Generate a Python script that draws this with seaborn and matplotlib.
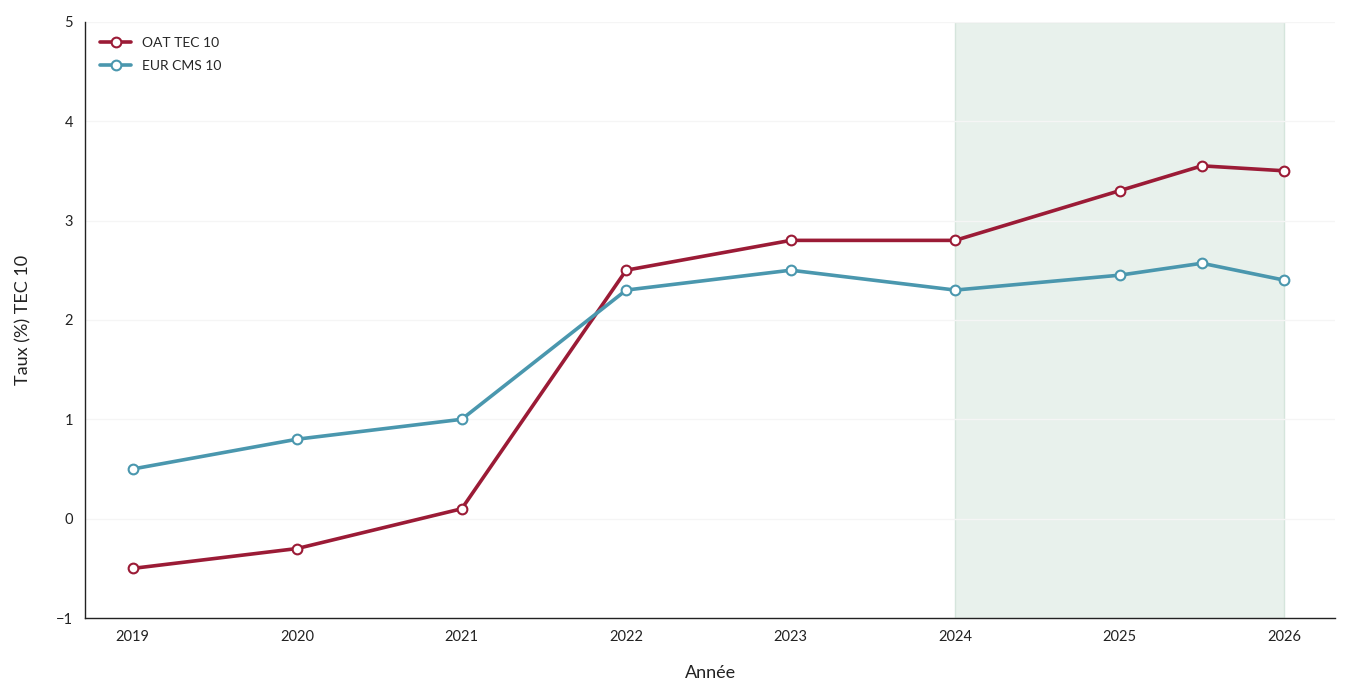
import pandas as pd
import matplotlib.pyplot as plt
import seaborn as sns

years = [2019, 2020, 2021, 2022, 2023, 2024, 2025, 2025.5, 2026]
oat_tec10 = [-0.5, -0.3, 0.1, 2.5, 2.8, 2.8, 3.3, 3.55, 3.5]
eur_cms10 = [0.5, 0.8, 1.0, 2.3, 2.5, 2.3, 2.45, 2.57, 2.4]
year_ticks = [2019, 2020, 2021, 2022, 2023, 2024, 2025, 2026]

df = pd.DataFrame({
    "Année": years * 2,
    "Taux": oat_tec10 + eur_cms10,
    "Série": ["OAT TEC 10"] * len(years) + ["EUR CMS 10"] * len(years),
})

sns.set_style("white")
plt.rcParams["font.family"] = ["Lato", "DejaVu Sans"]

fig = plt.figure(figsize=(13.5, 7), dpi=100)
ax = fig.add_axes([0.063, 0.117, 0.926, 0.852])

# zone de projection
ax.axvspan(2024, 2026, facecolor="#e8f1ec", edgecolor="#d5e5dc", linewidth=1, zorder=0)

sns.lineplot(
    data=df, x="Année", y="Taux", hue="Série",
    palette={"OAT TEC 10": "#9b1b36", "EUR CMS 10": "#4a97ae"},
    marker="o", markersize=7, markerfacecolor="white", markeredgewidth=1.5,
    linewidth=2.6, ax=ax, zorder=3,
)
for line in ax.lines:
    line.set_markeredgecolor(line.get_color())

ax.set_xlim(2018.71, 2026.31)
ax.set_ylim(-1, 5)
ax.set_xticks(year_ticks)
ax.set_xticklabels([str(y) for y in year_ticks])
ax.set_yticks(range(-1, 6))
ax.yaxis.grid(True, color="#f5f5f5", linewidth=1)
ax.set_axisbelow(True)
ax.tick_params(axis="both", length=5, color="#222222", labelsize=10.5, labelcolor="#222222")
for s in ["top", "right"]:
    ax.spines[s].set_visible(False)
for s in ["left", "bottom"]:
    ax.spines[s].set_color("#222222")
    ax.spines[s].set_linewidth(1)

ax.set_xlabel("Année", fontsize=13, labelpad=15, color="#222222")
ax.set_ylabel("Taux (%) TEC 10", fontsize=13, labelpad=18, color="#222222")

leg = ax.legend(loc="upper left", frameon=False, fontsize=10, handlelength=2.2,
                labelspacing=0.8, borderaxespad=0.7)
for h in leg.legend_handles:
    h.set_markerfacecolor("white")
    h.set_markeredgecolor(h.get_color())

fig.savefig("out.png", dpi=100)
